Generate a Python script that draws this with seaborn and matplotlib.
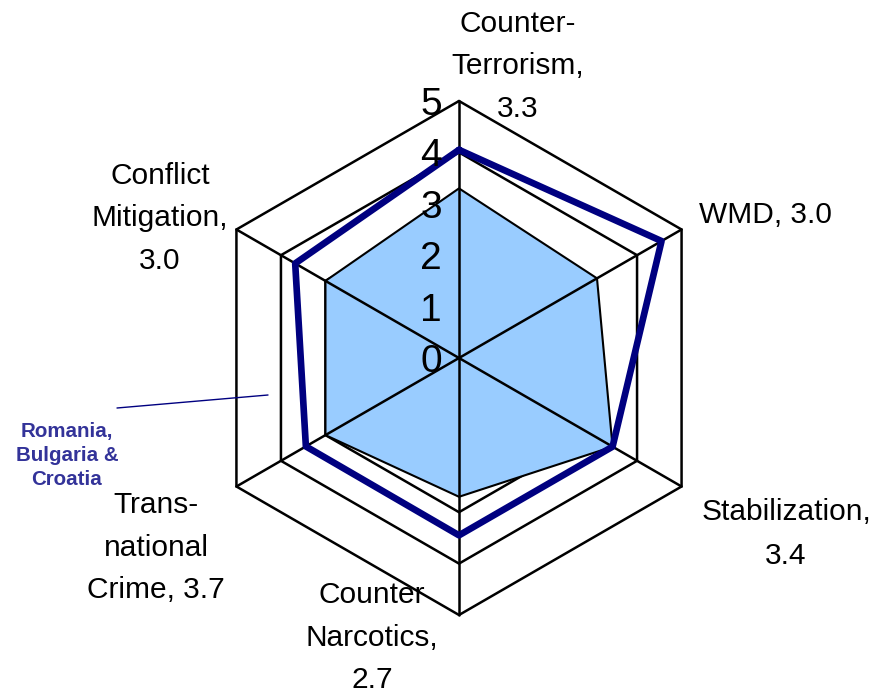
import numpy as np
import matplotlib
matplotlib.use("Agg")
import matplotlib.pyplot as plt
import seaborn as sns
import pandas as pd
from matplotlib.lines import Line2D

# ---------------- data ----------------
categories = ["Counter-Terrorism", "WMD", "Stabilization",
              "Counter Narcotics", "Transnational Crime", "Conflict Mitigation"]
category_labels = ["Counter-\nTerrorism,\n3.3", "WMD, 3.0", "Stabilization,\n3.4",
                   "Counter\nNarcotics,\n2.7", "Trans-\nnational\nCrime, 3.7",
                   "Conflict\nMitigation,\n3.0"]
overall_values = [3.3, 3.1, 3.45, 2.7, 3.0, 3.0]
rbc_values = [4.05, 4.55, 3.45, 3.45, 3.44, 3.68]
series_name = "Romania,\nBulgaria &\nCroatia"
r_ticks = [0, 1, 2, 3, 4, 5]
r_max = 5

# ---------------- style ----------------
sns.set_theme(style="white")
plt.rcParams["font.family"] = ["Liberation Sans", "DejaVu Sans"]

W, H = 873, 693
fig = plt.figure(figsize=(W / 100, H / 100), dpi=100)
fig.patch.set_facecolor("white")

cx, cy, R = 459, 358, 257  # pixel centre and radius of the r=5 ring
ax = fig.add_axes([(cx - R) / W, (H - cy - R) / H, 2 * R / W, 2 * R / H],
                  projection="polar")
ax.set_theta_zero_location("N")
ax.set_theta_direction(-1)

n = len(categories)
theta = np.linspace(0, 2 * np.pi, n, endpoint=False)
theta_closed = np.append(theta, 2 * np.pi)

def close(v):
    return list(v) + [v[0]]

# hexagonal grid rings
for r in r_ticks[1:]:
    ax.plot(theta_closed, [r] * (n + 1), color="black", lw=1.8, zorder=1,
            clip_on=False, solid_joinstyle="miter")

# filled series
ax.fill(theta_closed, close(overall_values), facecolor="#99CCFF",
        edgecolor="black", lw=1.5, zorder=2, clip_on=False)

# spokes
for t in theta:
    ax.plot([t, t], [0, r_max], color="black", lw=1.8, zorder=3, clip_on=False)

# dark line series via seaborn
df = pd.DataFrame({"theta": theta_closed, "r": close(rbc_values)})
sns.lineplot(data=df, x="theta", y="r", sort=False, ax=ax, color="#000080",
             lw=4.8, legend=False, zorder=4, clip_on=False)

ax.set_ylim(0, r_max)
ax.set_axis_off()

# radial tick labels
for t in r_ticks:
    ax.annotate(str(t), xy=(0, t), xytext=(-17, -14), textcoords="offset pixels",
                ha="right", va="baseline", fontsize=28, color="black", zorder=5)

# category labels (centre x, first baseline y, line step) in pixels
label_pos = [(518, 32, 42.5), (765, 223, 42.5), (786, 520, 44),
             (372, 603, 42.5), (156, 513, 42.5), (160, 184, 42.5)]
for lab, (x, y0, step) in zip(category_labels, label_pos):
    for i, line in enumerate(lab.split("\n")):
        fig.text(x / W, 1 - (y0 + i * step) / H, line, ha="center", va="baseline",
                 fontsize=21.5, color="black")

# series label with leader line
for i, line in enumerate(series_name.split("\n")):
    fig.text(67 / W, 1 - (437 + i * 24) / H, line, ha="center", va="baseline",
             fontsize=14.8, fontweight="bold", color="#333399")
fig.add_artist(Line2D([117 / W, 268 / W], [1 - 408 / H, 1 - 395 / H],
                      color="#000080", lw=1.0, transform=fig.transFigure))

fig.savefig("out.png", dpi=100)
